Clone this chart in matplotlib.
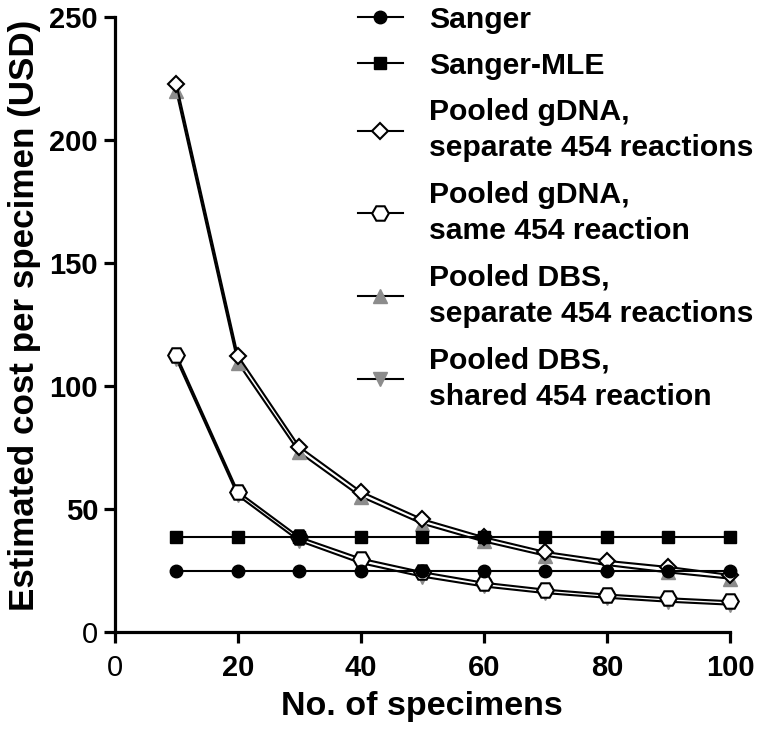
import matplotlib
matplotlib.use('Agg')
import matplotlib.pyplot as plt

plt.rcParams['font.family'] = ['Liberation Sans', 'DejaVu Sans']
plt.rcParams['font.weight'] = 'bold'

# datos
n_especimenes = [10, 20, 30, 40, 50, 60, 70, 80, 90, 100]
sanger = [24.8, 24.8, 24.8, 24.8, 24.8, 24.8, 24.8, 24.8, 24.8, 24.8]
sanger_mle = [38.6, 38.6, 38.6, 38.6, 38.6, 38.6, 38.6, 38.6, 38.6, 38.6]
gdna_separado = [222.8, 112.3, 75.2, 57.0, 45.8, 38.5, 32.5, 28.9, 26.4, 23.2]
gdna_mismo = [112.6, 57.0, 38.5, 29.8, 24.3, 20.0, 17.2, 15.2, 13.7, 12.5]
dbs_separado = [219.8, 109.5, 73.0, 55.0, 44.0, 36.8, 31.0, 27.2, 24.2, 21.7]
dbs_compartido = [111.0, 55.5, 37.0, 28.0, 22.5, 18.5, 15.8, 13.9, 12.3, 11.1]

etiquetas = ['Sanger', 'Sanger-MLE',
             'Pooled gDNA,\nseparate 454 reactions',
             'Pooled gDNA,\nsame 454 reaction',
             'Pooled DBS,\nseparate 454 reactions',
             'Pooled DBS,\nshared 454 reaction']

gris = '#8c8c8c'
lw = 1.5

fig = plt.figure(figsize=(7.6, 7.34), dpi=100)
ax = fig.add_axes([0.151, 0.139, 0.8095, 0.838])

# orden de dibujo: triangulos abajo, luego abiertos, Sanger encima
l_dbs_sep, = ax.plot(n_especimenes, dbs_separado, color='black', lw=lw, marker='^',
                     ms=10, mfc=gris, mec=gris, clip_on=False, zorder=2)
l_dbs_com, = ax.plot(n_especimenes, dbs_compartido, color='black', lw=lw, marker='v',
                     ms=10, mfc=gris, mec=gris, clip_on=False, zorder=2)
l_gdna_sep, = ax.plot(n_especimenes, gdna_separado, color='black', lw=lw, marker='D',
                      ms=8.5, mfc='white', mec='black', mew=1.5, clip_on=False, zorder=3)
l_gdna_mis, = ax.plot(n_especimenes, gdna_mismo, color='black', lw=lw, marker='H',
                      ms=12, mfc='white', mec='black', mew=1.5, clip_on=False, zorder=3)
l_mle, = ax.plot(n_especimenes, sanger_mle, color='black', lw=lw, marker='s',
                 ms=8.5, mfc='black', mec='black', clip_on=False, zorder=4)
l_sanger, = ax.plot(n_especimenes, sanger, color='black', lw=lw, marker='o',
                    ms=9, mfc='black', mec='black', clip_on=False, zorder=5)

ax.set_xlim(0, 100)
ax.set_ylim(0, 250)
ax.set_xticks([0, 20, 40, 60, 80, 100])
ax.set_yticks([0, 50, 100, 150, 200, 250])

for lado in ['top', 'right']:
    ax.spines[lado].set_visible(False)
for lado in ['left', 'bottom']:
    ax.spines[lado].set_linewidth(2.3)
ax.tick_params(direction='out', length=8, width=2.3, labelsize=21)
ax.tick_params(axis='y', pad=4)
ax.tick_params(axis='x', pad=8)

for lbl in ax.get_xticklabels() + ax.get_yticklabels():
    lbl.set_fontweight('bold')
# los ceros aparecen sin negrita en el original
ax.get_xticklabels()[0].set_fontweight('normal')
ax.get_yticklabels()[0].set_fontweight('normal')

ax.set_xlabel('No. of specimens', fontsize=24.5, fontweight='bold', labelpad=6)
ax.set_ylabel('Estimated cost per specimen (USD)', fontsize=25.2, fontweight='bold',
              labelpad=6, y=0.515)

leg = ax.legend([l_sanger, l_mle, l_gdna_sep, l_gdna_mis, l_dbs_sep, l_dbs_com], etiquetas,
                loc='upper left', bbox_to_anchor=(0.395, 1.0185), frameon=False,
                fontsize=21.7, handlelength=1.5, handletextpad=0.85, labelspacing=0.6,
                borderaxespad=0, borderpad=0)
for t in leg.get_texts():
    t.set_fontweight('bold')
    t.set_linespacing(1.4)

plt.savefig('out.png', dpi=100)
plt.close()
